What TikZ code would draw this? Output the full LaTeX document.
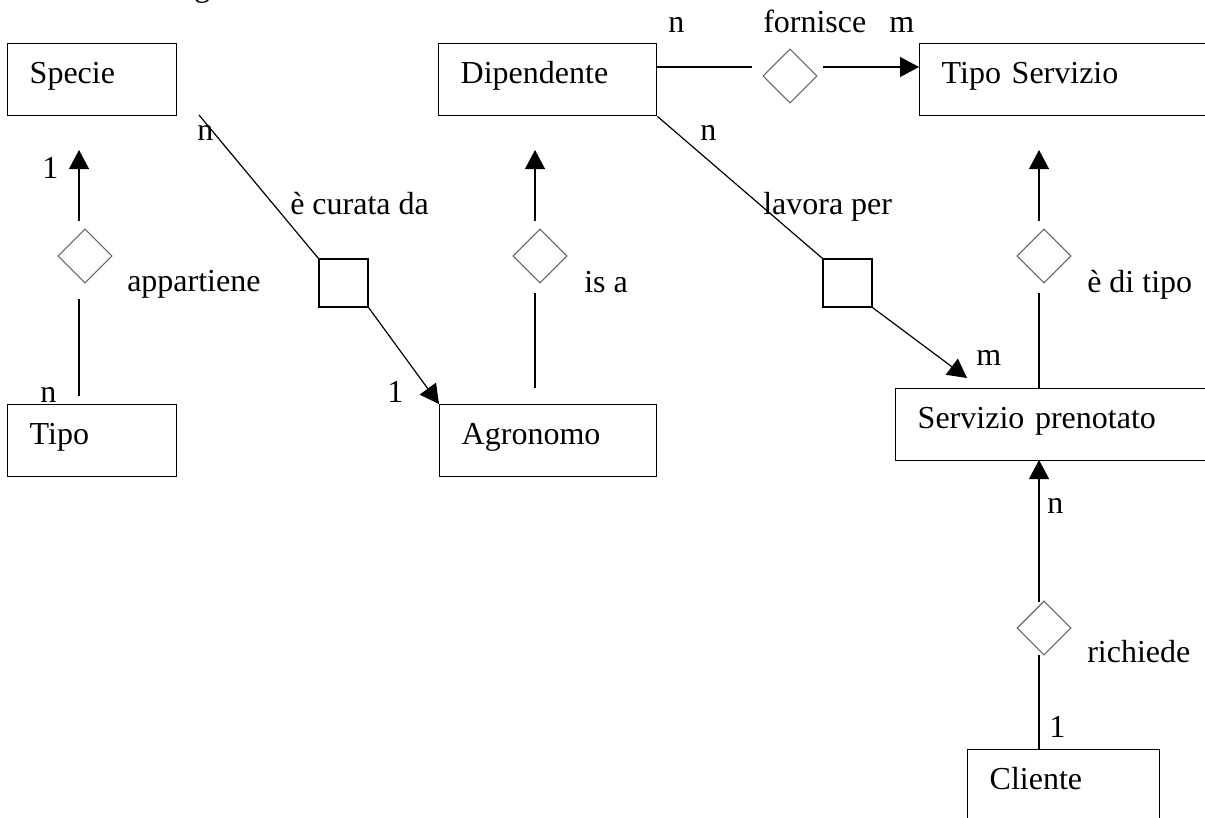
\documentclass[tikz,border=0pt]{standalone}
\usepackage{fontspec}
\setmainfont{Liberation Serif}
\usetikzlibrary{arrows.meta,shapes.geometric}
\begin{document}
\begin{tikzpicture}[x=0.75pt,y=-0.75pt,
  font=\fontsize{24}{28}\selectfont,
  ent/.style={draw, line width=1.1pt, anchor=north west, inner xsep=16.5pt, inner ysep=0pt,
              text height=30pt, text depth=24pt, align=left, text width=#1},
  rel/.style={diamond, draw=black!60, line width=0.8pt, minimum width=40.5pt, minimum height=40.5pt, inner sep=0pt},
  agg/.style={rectangle, draw, line width=1pt, minimum width=36.75pt, minimum height=36pt, inner sep=0pt},
  lbl/.style={anchor=base west, inner sep=0pt},
  conn/.style={line width=0.9pt},
  arr/.style={conn, -{Triangle[length=14.25pt,width=15pt]}}]
\fill[white] (0,0) rectangle (1205,817);
\useasboundingbox (0,0) rectangle (1205,817);

% entities
\node[ent=93.75pt] (spec) at (7,43) {Specie};
\node[ent=93.75pt] (tipo) at (7,404) {Tipo};
\node[ent=129.75pt] (agro) at (439,404) {Agronomo};
\node[ent=130.5pt] (dip) at (438,43) {Dipendente};
\node[ent=200.25pt] (tser) at (919,43) {Tipo Servizio};
\node[ent=218.25pt] (spren) at (895,388) {Servizio prenotato};
\node[ent=111pt] (cli) at (967,749) {Cliente};

% relationships
\node[rel] (app) at (85,256) {};
\node[rel] (isa) at (540,256) {};
\node[rel] (ditipo) at (1044,256) {};
\node[rel] (forn) at (790,76) {};
\node[rel] (rich) at (1044,628) {};
\node[agg] (cur) at (343.5,283) {};
\node[agg] (lav) at (847.5,283) {};

% free ends
\coordinate (appB) at (79,396);  \coordinate (appT) at (79,299);
\coordinate (appU) at (79,221);  \coordinate (specIn) at (79,150);
\coordinate (curA) at (199,115);
\coordinate (isaB) at (535,388); \coordinate (isaT) at (535,293);
\coordinate (isaU) at (535,221); \coordinate (dipIn) at (535,150);
\coordinate (sprenIn) at (967,378);
\coordinate (fornA) at (656,67); \coordinate (fornB) at (752,67);
\coordinate (fornC) at (823,67); \coordinate (tserIn) at (919,67);
\coordinate (dtB) at (1039,388); \coordinate (dtT) at (1039,293);
\coordinate (dtU) at (1039,221); \coordinate (tserIn2) at (1039,150);
\coordinate (riB) at (1039,749); \coordinate (riT) at (1039,655);
\coordinate (riU) at (1039,602); \coordinate (sprenIn2) at (1039,460);

% connectors
\draw[conn] (appB) -- (appT);
\draw[arr] (appU) -- (specIn);
\draw[conn] (curA) -- (cur.north west);
\draw[arr] (cur.south east) -- (agro.north west);
\draw[conn] (isaB) -- (isaT);
\draw[arr] (isaU) -- (dipIn);
\draw[conn] (dip.south east) -- (lav.north west);
\draw[arr] (lav.south east) -- (sprenIn);
\draw[conn] (fornA) -- (fornB);
\draw[arr] (fornC) -- (tserIn);
\draw[conn] (dtB) -- (dtT);
\draw[arr] (dtU) -- (tserIn2);
\draw[conn] (riB) -- (riT);
\draw[arr] (riU) -- (sprenIn2);

% labels
\node[lbl] (gfrag) at (194,-3) {g};
\node[lbl] (l1) at (197,140) {n};
\node[lbl] (l2) at (42,178) {1};
\node[lbl] (l3) at (40,402) {n};
\node[lbl] (l4) at (127,291) {appartiene};
\node[lbl] (l5) at (290,214) {è curata da};
\node[lbl] (l6) at (387,402) {1};
\node[lbl] (l7) at (700,140) {n};
\node[lbl] (l8) at (763,214) {lavora per};
\node[lbl] (l9) at (584,292) {is a};
\node[lbl] (l10) at (976,365) {m};
\node[lbl] (l11) at (1087,292) {è di tipo};
\node[lbl] (l12) at (668,33) {n};
\node[lbl] (l13) at (763,33) {fornisce};
\node[lbl] (l14) at (889,33) {m};
\node[lbl] (l15) at (1047,513) {n};
\node[lbl] (l16) at (1087,662) {richiede};
\node[lbl] (l17) at (1049,737) {1};
\end{tikzpicture}
\end{document}
